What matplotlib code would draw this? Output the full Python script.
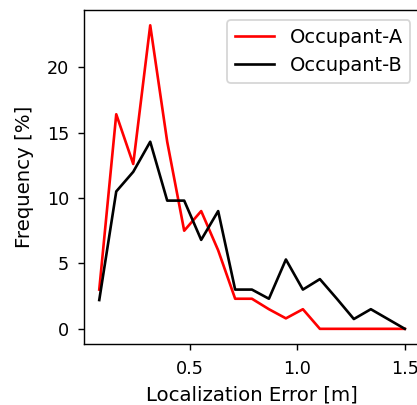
import matplotlib
matplotlib.use("Agg")
import matplotlib.pyplot as plt

# right edges of the 19 error bins between 0 and 1.5 m
error_m = [0.079, 0.158, 0.237, 0.316, 0.395, 0.474, 0.553, 0.632, 0.711, 0.789,
           0.868, 0.947, 1.026, 1.105, 1.184, 1.263, 1.342, 1.421, 1.5]

# frequency of each error bin, in percent
occupant_a = [3.0, 16.4, 12.6, 23.2, 14.3, 7.5, 9.0, 6.0, 2.3, 2.3,
              1.5, 0.8, 1.5, 0.0, 0.0, 0.0, 0.0, 0.0, 0.0]
occupant_b = [2.2, 10.5, 12.0, 14.3, 9.8, 9.8, 6.8, 9.0, 3.0, 3.0,
              2.3, 5.3, 3.0, 3.8, 2.3, 0.75, 1.5, 0.75, 0.0]

dpi = 127
fig = plt.figure(figsize=(417 / dpi, 405 / dpi), dpi=dpi)
ax = fig.add_axes([0.2014, 0.1506, 0.806, 0.8244])

ax.plot(error_m, occupant_a, color="red", label="Occupant-A")
ax.plot(error_m, occupant_b, color="black", label="Occupant-B")

ax.tick_params(axis="x", pad=5.8)
ax.tick_params(axis="y", pad=5)
ax.set_xlabel("Localization Error [m]", fontsize=11.2)
ax.set_ylabel("Frequency [%]", fontsize=11.2, labelpad=7)
ax.legend(loc="upper right", fontsize=11)

fig.savefig("out.png", dpi=dpi)
